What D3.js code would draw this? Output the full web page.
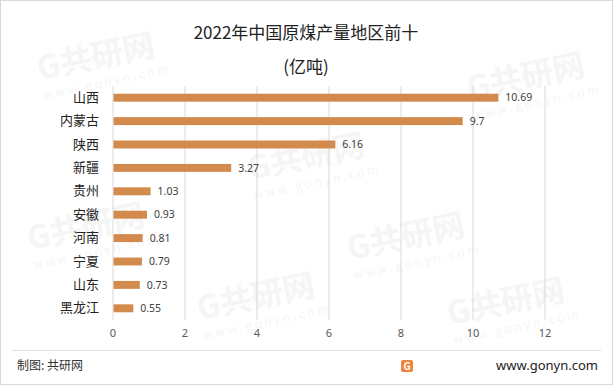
<!DOCTYPE html>
<html>
<head>
<meta charset="utf-8">
<script src="https://cdn.jsdelivr.net/npm/d3@7"></script>
<style>
  body { margin: 0; background: #fff; }
  svg text { font-family: "Noto Sans CJK SC", "Noto Sans", sans-serif; }
</style>
</head>
<body>
<script>
var regions = ["山西", "内蒙古", "陕西", "新疆", "贵州", "安徽", "河南", "宁夏", "山东", "黑龙江"];
var output = [10.69, 9.7, 6.16, 3.27, 1.03, 0.93, 0.81, 0.79, 0.73, 0.55];
var xTicks = [0, 2, 4, 6, 8, 10, 12];

var width = 613, height = 385;
var svg = d3.select("body").append("svg")
	.attr("width", width)
	.attr("height", height);

svg.append("rect")
	.attr("x", 0.5).attr("y", 0.5)
	.attr("width", width - 1).attr("height", height - 1)
	.style("fill", "#fff").style("stroke", "#d9d9d9");

// faint watermarks, kept inside the frame and clear of the title
var marks = [[40, 80], [470, 100], [30, 250], [250, 180], [200, 320], [450, 325], [350, 260]];
svg.selectAll("g.wm")
	.data(marks)
	.enter()
	.append("g")
	.attr("class", "wm")
	.attr("transform", function (d) { return "translate(" + d[0] + "," + d[1] + ") rotate(-12)"; })
	.each(function () {
		var g = d3.select(this);
		g.append("text").text("G共研网")
			.style("font-size", "32px").style("font-weight", "bold")
			.style("fill", "#f5f5f5");
		g.append("text").text("w w w . g o n y n . c o m")
			.attr("y", 20)
			.style("font-size", "12px").style("fill", "#f5f5f5");
	});

var x = d3.scaleLinear().domain([0, 12]).range([112.5, 544.5]);
var y = d3.scaleBand().domain(regions).range([86, 320]).paddingInner(0.66).paddingOuter(0.33);

svg.append("text")
	.text("2022年中国原煤产量地区前十")
	.attr("x", 306).attr("y", 39)
	.style("font-size", "17px").style("fill", "#222")
	.style("text-anchor", "middle");
svg.append("text")
	.text("(亿吨)")
	.attr("x", 306).attr("y", 73)
	.style("font-size", "17px").style("fill", "#222")
	.style("text-anchor", "middle");

// grid lines
svg.selectAll("line.grid")
	.data(xTicks)
	.enter()
	.append("line")
	.attr("class", "grid")
	.attr("x1", function (d) { return x(d) + 0.5; })
	.attr("x2", function (d) { return x(d) + 0.5; })
	.attr("y1", 86).attr("y2", 320)
	.style("stroke", "#d9d9d9");

var xAxis = svg.append("g")
	.attr("transform", "translate(0,320)")
	.call(d3.axisBottom(x).tickValues(xTicks).tickSize(0).tickPadding(9));
xAxis.select(".domain").remove();
xAxis.selectAll("text")
	.style("font-size", "11px").style("fill", "#595959")
	.style("font-family", "'Noto Sans', sans-serif");

var yAxis = svg.append("g")
	.attr("transform", "translate(112,0)")
	.call(d3.axisLeft(y).tickSize(0).tickPadding(13));
yAxis.select(".domain").remove();
yAxis.selectAll("text")
	.style("font-size", "13px").style("fill", "#222");

svg.selectAll("rect.bar")
	.data(output)
	.enter()
	.append("rect")
	.attr("class", "bar")
	.attr("x", x(0) + 1)
	.attr("y", function (d, i) { return y(regions[i]); })
	.attr("width", function (d) { return x(d) - x(0); })
	.attr("height", y.bandwidth())
	.style("fill", "#d38b4d");

svg.selectAll("text.val")
	.data(output)
	.enter()
	.append("text")
	.attr("class", "val")
	.text(function (d) { return d; })
	.attr("x", function (d) { return x(d) + 8; })
	.attr("y", function (d, i) { return y(regions[i]) + y.bandwidth() / 2; })
	.attr("dy", "0.35em")
	.style("font-size", "10.5px").style("fill", "#404040")
	.style("font-family", "'Noto Sans', sans-serif");

// footer
svg.append("line")
	.attr("x1", 12).attr("x2", 601)
	.attr("y1", 350.5).attr("y2", 350.5)
	.style("stroke", "#e0e0e0");
svg.append("text")
	.text("制图: 共研网")
	.attr("x", 17).attr("y", 370)
	.style("font-size", "12px").style("fill", "#333");
svg.append("rect")
	.attr("x", 401).attr("y", 360)
	.attr("width", 12).attr("height", 12)
	.attr("rx", 2)
	.style("fill", "#f0843c");
svg.append("text")
	.text("G")
	.attr("x", 407).attr("y", 370)
	.style("font-size", "10px").style("font-weight", "bold")
	.style("fill", "#fff").style("text-anchor", "middle");
svg.append("text")
	.text("www.gonyn.com")
	.attr("x", 598).attr("y", 370)
	.style("font-size", "13px").style("fill", "#222")
	.style("text-anchor", "end")
	.style("font-family", "'Noto Sans', sans-serif");
</script>
</body>
</html>
